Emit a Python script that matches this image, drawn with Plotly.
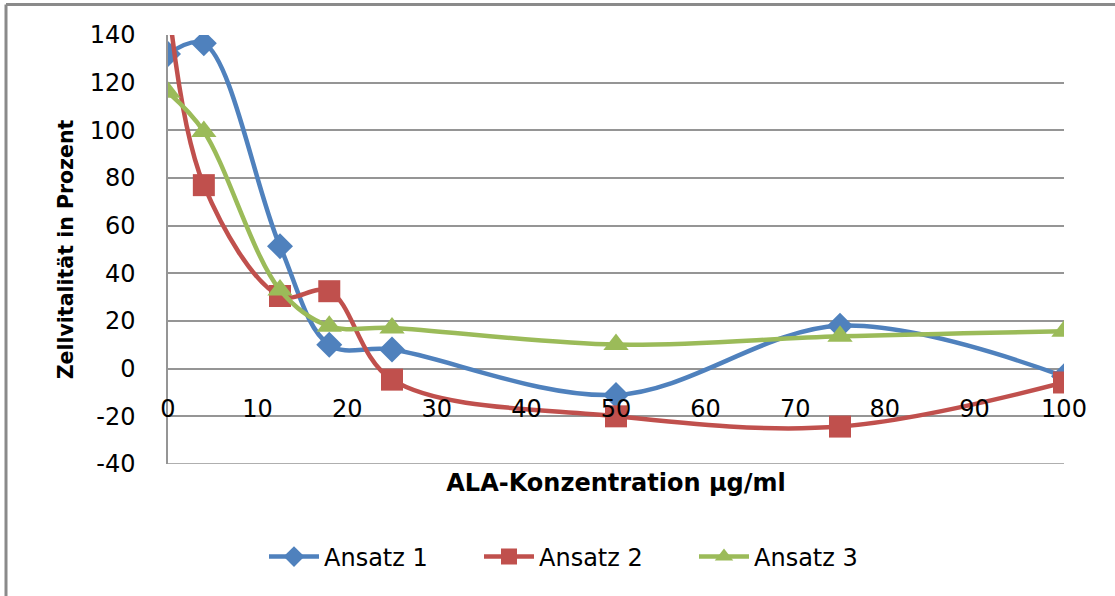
import plotly.graph_objects as go

# ALA concentration (µg/ml) and cell viability (%) for three runs
konzentration = [0, 4, 12.5, 18, 25, 50, 75, 100]
ansatz_1 = [132, 136.5, 51.4, 10, 8, -11, 18, -3.2]
ansatz_2 = [155, 77, 30.5, 32.5, -4.6, -20, -24.3, -5.8]
ansatz_3 = [116, 99.5, 33, 17.8, 17.1, 10.1, 13.6, 15.7]

x_ticks = list(range(0, 101, 10))
y_ticks = list(range(-40, 141, 20))

FONT = "DejaVu Sans"
GRID = "#959595"

series = [
    ("Ansatz 1", ansatz_1, "#4F81BD", "diamond", 20),
    ("Ansatz 2", ansatz_2, "#C0504D", "square", 22),
    ("Ansatz 3", ansatz_3, "#9BBB59", "triangle-up", 22),
]

fig = go.Figure()
for name, vals, color, symbol, size in series:
    fig.add_trace(go.Scatter(
        x=konzentration, y=vals, name=name, mode="lines+markers",
        line=dict(color=color, width=4.5, shape="spline", smoothing=1.0),
        marker=dict(color=color, symbol=symbol, size=size, line=dict(width=0)),
        cliponaxis=True,
    ))

W, H = 1115, 596
L, R, T, B = 168, 51, 35, 132
plot_w = W - L - R
plot_h = H - T - B

def px_x(px):
    return (px - L) / plot_w

def px_y(py):
    return (H - B - py) / plot_h

fig.update_layout(
    width=W, height=H,
    margin=dict(l=L, r=R, t=T, b=B),
    paper_bgcolor="white", plot_bgcolor="white",
    font=dict(family=FONT, size=24, color="#000000"),
    showlegend=True,
    legend=dict(
        orientation="h", x=px_x(264), xanchor="left",
        y=px_y(557), yanchor="middle",
        font=dict(family=FONT, size=24, color="#000000"),
        entrywidth=150, entrywidthmode="pixels",
        itemwidth=50, tracegroupgap=0,
    ),
    xaxis=dict(
        range=[0, 100], tickvals=x_ticks, ticktext=[str(v) for v in x_ticks],
        showgrid=False, zeroline=False, showline=False,
        anchor="free", position=px_y(392), ticks="",
        tickfont=dict(family=FONT, size=24),
        title=dict(text="<b>ALA-Konzentration µg/ml</b>",
                   font=dict(family=FONT, size=24), standoff=52),
    ),
    yaxis=dict(
        range=[-40, 140], tickvals=y_ticks, ticktext=[str(v) for v in y_ticks],
        showgrid=True, gridcolor=GRID, gridwidth=1.5,
        zeroline=True, zerolinecolor=GRID, zerolinewidth=1.5,
        showline=True, linecolor=GRID, linewidth=1.5,
        ticks="", ticklabelstandoff=26,
        tickfont=dict(family=FONT, size=24),
        title=dict(text="<b>Zellvitalität in Prozent</b>",
                   font=dict(family=FONT, size=20.5), standoff=10),
    ),
    shapes=[
        # bottom edge of the plot area at -40
        dict(type="line", xref="paper", yref="y", layer="below",
             x0=0, x1=1, y0=-40, y1=-40,
             line=dict(color=GRID, width=1.5)),
        # chart frame, left and top edges
        dict(type="line", xref="paper", yref="paper",
             x0=px_x(6), x1=px_x(6), y0=px_y(4.5), y1=px_y(600),
             line=dict(color="#8a8a8a", width=3)),
        dict(type="line", xref="paper", yref="paper",
             x0=px_x(6), x1=px_x(1115), y0=px_y(4.5), y1=px_y(4.5),
             line=dict(color="#8a8a8a", width=3)),
    ],
)

fig.write_html("out.html")
